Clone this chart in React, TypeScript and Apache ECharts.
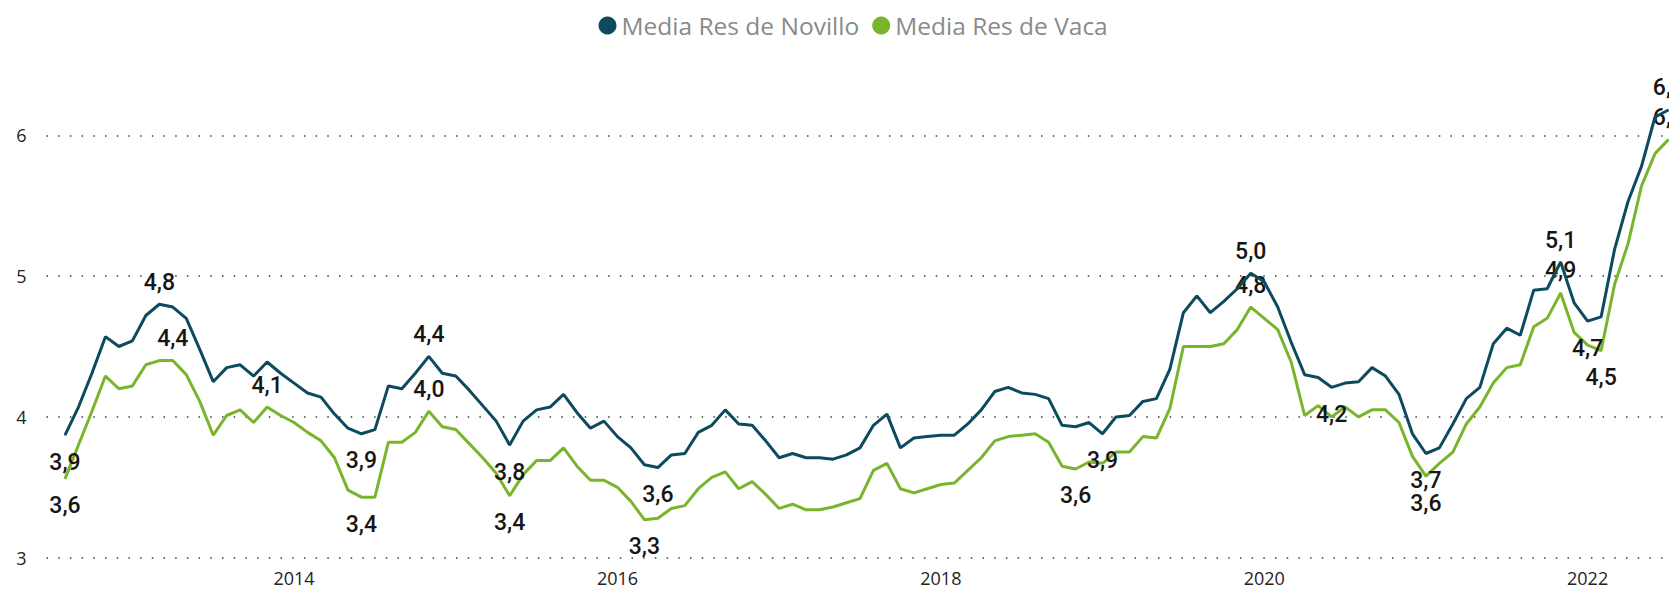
import { useEffect, useRef } from 'react';
import * as echarts from 'echarts';

// Monthly series, first month = Aug 2012
const START_YEAR = 2012;
const START_MONTH = 8;

const novillo: number[] = [
  3.87, 4.07, 4.31, 4.57, 4.50, 4.54, 4.72, 4.80, 4.78, 4.70,
  4.48, 4.25, 4.35, 4.37, 4.29, 4.39, 4.31, 4.24, 4.17, 4.14,
  4.02, 3.92, 3.88, 3.91, 4.22, 4.20, 4.31, 4.43, 4.31, 4.29,
  4.19, 4.08, 3.97, 3.80, 3.97, 4.05, 4.07, 4.16, 4.03, 3.92,
  3.97, 3.86, 3.78, 3.66, 3.64, 3.73, 3.74, 3.89, 3.94, 4.05,
  3.95, 3.94, 3.83, 3.71, 3.74, 3.71, 3.71, 3.70, 3.73, 3.78,
  3.94, 4.02, 3.78, 3.85, 3.86, 3.87, 3.87, 3.95, 4.05, 4.18,
  4.21, 4.17, 4.16, 4.13, 3.94, 3.93, 3.96, 3.88, 4.00, 4.01,
  4.11, 4.13, 4.34, 4.74, 4.86, 4.74, 4.82, 4.91, 5.02, 4.96,
  4.78, 4.53, 4.30, 4.28, 4.21, 4.24, 4.25, 4.35, 4.29, 4.16,
  3.88, 3.74, 3.78, 3.95, 4.13, 4.21, 4.52, 4.63, 4.58, 4.90,
  4.91, 5.10, 4.81, 4.68, 4.71, 5.19, 5.53, 5.78, 6.13, 6.18,
];

const vaca: number[] = [
  3.56, 3.80, 4.04, 4.29, 4.20, 4.22, 4.37, 4.40, 4.40, 4.30,
  4.11, 3.87, 4.01, 4.05, 3.96, 4.07, 4.01, 3.96, 3.89, 3.83,
  3.71, 3.48, 3.43, 3.43, 3.82, 3.82, 3.89, 4.04, 3.93, 3.91,
  3.81, 3.71, 3.60, 3.44, 3.59, 3.69, 3.69, 3.78, 3.65, 3.55,
  3.55, 3.50, 3.40, 3.27, 3.28, 3.35, 3.37, 3.49, 3.57, 3.61,
  3.49, 3.54, 3.45, 3.35, 3.38, 3.34, 3.34, 3.36, 3.39, 3.42,
  3.62, 3.67, 3.49, 3.46, 3.49, 3.52, 3.53, 3.62, 3.71, 3.83,
  3.86, 3.87, 3.88, 3.82, 3.65, 3.63, 3.68, 3.67, 3.75, 3.75,
  3.86, 3.85, 4.06, 4.50, 4.50, 4.50, 4.52, 4.62, 4.78, 4.70,
  4.62, 4.39, 4.01, 4.08, 4.00, 4.07, 4.00, 4.05, 4.05, 3.96,
  3.72, 3.58, 3.67, 3.75, 3.95, 4.07, 4.24, 4.35, 4.37, 4.64,
  4.70, 4.88, 4.60, 4.51, 4.47, 4.94, 5.23, 5.64, 5.87, 5.97,
];

const seriesNames = ['Media Res de Novillo', 'Media Res de Vaca'];
const yearTicks = ['2014', '2016', '2018', '2020', '2022'];
const yTicks = [3, 4, 5, 6];

// labelled points: [month index, position]
const novilloLabels: [number, 'top' | 'bottom'][] = [
  [0, 'bottom'], [7, 'top'], [22, 'bottom'], [27, 'top'], [33, 'bottom'],
  [44, 'bottom'], [77, 'bottom'], [88, 'top'], [94, 'bottom'], [101, 'bottom'],
  [111, 'top'], [113, 'bottom'], [119, 'top'],
];
const vacaLabels: [number, 'top' | 'bottom'][] = [
  [0, 'bottom'], [8, 'top'], [15, 'top'], [22, 'bottom'], [27, 'top'],
  [33, 'bottom'], [43, 'bottom'], [75, 'bottom'], [88, 'top'], [101, 'bottom'],
  [111, 'top'], [114, 'bottom'], [119, 'top'],
];

const months: string[] = novillo.map((_, i) => {
  const m = START_MONTH - 1 + i;
  return `${START_YEAR + Math.floor(m / 12)}-${String((m % 12) + 1).padStart(2, '0')}`;
});
const yearTickIndex = yearTicks.map((y) => months.indexOf(`${y}-01`));

const BLUE = '#0c4a5e';
const GREEN = '#78b52c';

function buildData(values: number[], labels: [number, 'top' | 'bottom'][]) {
  const map = new Map(labels);
  return values.map((v, i) => {
    const pos = map.get(i);
    const item: any = { value: [i, v] };
    if (pos) {
      item.label = {
        show: true,
        position: pos,
        distance: pos === 'top' ? 10 : 15,
      };
    }
    return item;
  });
}

export default function App() {
  const ref = useRef<HTMLDivElement>(null);
  useEffect(() => {
    if (!ref.current) return;
    const chart = echarts.init(ref.current, null, { renderer: 'svg' });
    const labelStyle = {
      show: false,
      fontFamily: 'Roboto',
      fontWeight: 500,
      fontSize: 23,
      color: '#161616',
      formatter: (p: any) => Number(p.value[1]).toFixed(1).replace('.', ','),
    };
    chart.setOption({
      animation: false,
      legend: {
        left: 593.5,
        top: 8,
        icon: 'circle',
        itemWidth: 18,
        itemHeight: 18,
        itemGap: 13,
        textStyle: { fontFamily: 'Open Sans', fontSize: 24.5, color: '#8a8a8a' },
        data: [
          { name: seriesNames[0], itemStyle: { color: BLUE } },
          { name: seriesNames[1], itemStyle: { color: GREEN } },
        ],
      },
      grid: {
        left: 46.5,
        right: 0,
        top: 135.3,
        bottom: 35.3,
        containLabel: false,
        outerBoundsMode: 'none',
      },
      xAxis: {
        type: 'value',
        min: -1.373,
        max: 119.04,
        axisLine: { show: false },
        axisTick: { show: false },
        splitLine: { show: false },
        axisLabel: {
          customValues: yearTickIndex,
          margin: 11,
          fontFamily: 'Open Sans',
          fontSize: 18,
          color: '#252423',
          formatter: (v: number) => {
            const i = yearTickIndex.indexOf(Math.round(v));
            return i >= 0 ? yearTicks[i] : '';
          },
        },
      },
      yAxis: {
        type: 'value',
        min: yTicks[0],
        max: yTicks[yTicks.length - 1],
        interval: 1,
        axisLine: { show: false },
        axisTick: { show: false },
        axisLabel: {
          margin: 20,
          fontFamily: 'Open Sans',
          fontSize: 18,
          color: '#252423',
        },
        splitLine: {
          show: true,
          lineStyle: { color: '#3a3a3a', width: 1.5, type: [1.5, 10.2] },
        },
      },
      series: [
        {
          name: seriesNames[1],
          type: 'line',
          clip: false,
          symbol: 'circle',
          symbolSize: 1,
          showSymbol: true,
          showAllSymbol: true,
          itemStyle: { color: GREEN },
          lineStyle: { color: GREEN, width: 3 },
          label: labelStyle,
          data: buildData(vaca, vacaLabels),
          z: 2,
        },
        {
          name: seriesNames[0],
          type: 'line',
          clip: false,
          symbol: 'circle',
          symbolSize: 1,
          showSymbol: true,
          showAllSymbol: true,
          itemStyle: { color: BLUE },
          lineStyle: { color: BLUE, width: 3 },
          label: labelStyle,
          data: buildData(novillo, novilloLabels),
          z: 3,
        },
      ],
    });
    return () => chart.dispose();
  }, []);
  return (
    <div
      ref={ref}
      style={{ position: 'absolute', left: 0, top: 0, width: 1669, height: 593 }}
    />
  );
}
